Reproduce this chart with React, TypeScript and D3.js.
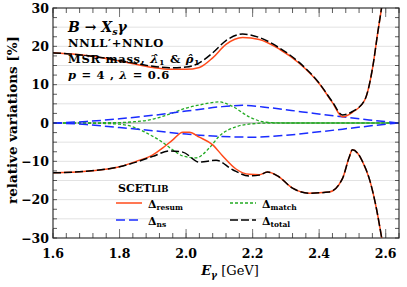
import React from "react";
import * as d3 from "d3";

type Pt = [number, number];

const totalUp: Pt[] = [
  [1.6, 18.3], [1.7, 17.6], [1.8, 16.3], [1.9, 14.8], [1.95, 14.4], [2.0, 14.6],
  [2.04, 15.7], [2.08, 18.3], [2.12, 21.5], [2.17, 23.2], [2.22, 22.3], [2.28, 19.6],
  [2.34, 15.8], [2.4, 10.4], [2.44, 5.5], [2.47, 2.1], [2.5, 3.0], [2.537, 6.0],
  [2.561, 14.6], [2.576, 23.5], [2.588, 30.3], [2.6, 38],
];
const resumUp: Pt[] = [
  [1.6, 18.3], [1.7, 17.6], [1.8, 16.2], [1.9, 14.5], [1.95, 14.0], [2.0, 14.0],
  [2.04, 14.5], [2.08, 17.0], [2.12, 20.5], [2.17, 22.3], [2.22, 21.8], [2.28, 19.3],
  [2.34, 15.6], [2.4, 10.3], [2.44, 5.3], [2.47, 1.6], [2.5, 2.8], [2.537, 6.0],
  [2.561, 14.6], [2.576, 23.5], [2.588, 30.3], [2.6, 38],
];
const totalDown: Pt[] = [
  [1.6, -13.0], [1.7, -12.6], [1.8, -11.4], [1.85, -10.2], [1.9, -8.7], [1.95, -7.3],
  [1.99, -7.6], [2.04, -10.2], [2.09, -9.7], [2.14, -12.2], [2.19, -13.8], [2.22, -13.6],
  [2.245, -12.8], [2.275, -13.8], [2.32, -17.0], [2.37, -18.3], [2.43, -18.0], [2.47, -14.5],
  [2.49, -9.0], [2.5, -7.0], [2.515, -7.8], [2.53, -10.0], [2.552, -14.9], [2.573, -22.7],
  [2.588, -30], [2.6, -36],
];
const resumDown: Pt[] = [
  [1.6, -13.0], [1.7, -12.6], [1.8, -11.4], [1.85, -10.0], [1.9, -8.3], [1.93, -6.5],
  [1.96, -4.4], [1.99, -2.4], [2.01, -2.4], [2.04, -3.7], [2.08, -5.7], [2.11, -8.6],
  [2.15, -12.0], [2.19, -13.4], [2.22, -13.5], [2.245, -12.8], [2.275, -13.8], [2.32, -17.0],
  [2.37, -18.3], [2.43, -18.0], [2.47, -14.5], [2.49, -9.0], [2.5, -7.0], [2.515, -7.8],
  [2.53, -10.0], [2.552, -14.9], [2.573, -22.7], [2.588, -30], [2.6, -36],
];
const matchUp: Pt[] = [
  [1.6, 0], [1.8, 0.1], [1.84, 0.3], [1.89, 0.8], [1.95, 2.3], [2.0, 3.9], [2.04, 4.7],
  [2.1, 5.5], [2.14, 4.3], [2.19, 1.6], [2.24, 0.2], [2.3, 0], [2.64, 0],
];
const matchDown: Pt[] = [
  [1.6, 0], [1.74, -0.1], [1.8, -0.3], [1.84, -1.0], [1.89, -3.0], [1.92, -4.5],
  [1.96, -7.0], [1.99, -8.6], [2.03, -9.1], [2.07, -6.5], [2.1, -3.4], [2.15, -1.0],
  [2.2, -0.2], [2.25, 0], [2.64, 0],
];
const nsUp: Pt[] = [
  [1.6, 0], [1.7, 0.4], [1.8, 1.1], [1.9, 2.0], [2.0, 3.1], [2.1, 4.2], [2.17, 4.6],
  [2.25, 4.0], [2.35, 2.9], [2.45, 1.8], [2.55, 0.8], [2.64, 0],
];
const nsDown: Pt[] = [
  [1.6, 0], [1.7, -0.4], [1.8, -1.2], [1.9, -2.0], [2.0, -2.9], [2.1, -3.5], [2.2, -3.7],
  [2.3, -3.2], [2.4, -2.3], [2.5, -1.3], [2.58, -0.5], [2.64, 0],
];

const xTickLabels = ["1.6", "1.8", "2.0", "2.2", "2.4", "2.6"];
const yTickLabels = [30, 20, 10, 0, -10, -20, -30];

const W = 407;
const H = 287;
const L = 53, R = 399, T = 8, B = 238;

const x = d3.scaleLinear().domain([1.6, 2.64]).range([L, R]);
const y = d3.scaleLinear().domain([-30, 30]).range([B, T]);

const line = d3
  .line<Pt>()
  .x((d) => x(d[0]))
  .y((d) => y(d[1]))
  .curve(d3.curveMonotoneX);

const serif = "'DejaVu Serif', serif";
const RED = "#ff4a1a";
const GREEN = "#22aa22";
const BLUE = "#1a2cff";

export default function App() {
  const yMinor = d3.range(-30, 30.01, 2.5);
  const yGrid = d3.range(-25, 25.01, 5).filter((v) => v !== 0);
  const xMinor = d3.range(1.6, 2.641, 0.04);
  const xMajor = xTickLabels.map(Number);

  return (
    <svg
      width={W}
      height={H}
      style={{ position: "absolute", left: 0, top: 0, background: "#fff" }}
      fontFamily={serif}
    >
      <defs>
        <clipPath id="plot">
          <rect x={L} y={T} width={R - L} height={B - T} />
        </clipPath>
      </defs>

      {/* grid */}
      {yGrid.map((v) => (
        <line key={"g" + v} x1={L} x2={R} y1={y(v)} y2={y(v)} stroke="#e2e2e2" strokeWidth={1} />
      ))}
      <line x1={L} x2={R} y1={y(0)} y2={y(0)} stroke="#8a8a8a" strokeWidth={1} />

      {/* curves */}
      <g clipPath="url(#plot)" fill="none">
        <path d={line(matchUp) || ""} stroke={GREEN} strokeWidth={1.3} strokeDasharray="3,2" />
        <path d={line(matchDown) || ""} stroke={GREEN} strokeWidth={1.3} strokeDasharray="3,2" />
        <path d={line(nsUp) || ""} stroke={BLUE} strokeWidth={1.5} strokeDasharray="9,4" />
        <path d={line(nsDown) || ""} stroke={BLUE} strokeWidth={1.5} strokeDasharray="9,4" />
        <path d={line(resumUp) || ""} stroke={RED} strokeWidth={1.5} />
        <path d={line(resumDown) || ""} stroke={RED} strokeWidth={1.5} />
        <path d={line(totalUp) || ""} stroke="#000" strokeWidth={1.5} strokeDasharray="8,3" />
        <path d={line(totalDown) || ""} stroke="#000" strokeWidth={1.5} strokeDasharray="8,3" />
      </g>

      {/* ticks */}
      {yMinor.map((v) => (
        <g key={"yt" + v} stroke="#333" strokeWidth={0.8}>
          <line x1={L} x2={L + 4} y1={y(v)} y2={y(v)} />
          <line x1={R - 4} x2={R} y1={y(v)} y2={y(v)} />
        </g>
      ))}
      {xMinor.map((v) => (
        <g key={"xt" + v} stroke="#333" strokeWidth={0.8}>
          <line x1={x(v)} x2={x(v)} y1={B} y2={B - 5} />
          <line x1={x(v)} x2={x(v)} y1={T} y2={T + 5} />
        </g>
      ))}
      {xMajor.map((v) => (
        <g key={"xm" + v} stroke="#777" strokeWidth={1}>
          <line x1={x(v)} x2={x(v)} y1={B} y2={B - 9} />
          <line x1={x(v)} x2={x(v)} y1={T} y2={T + 9} />
        </g>
      ))}
      <rect x={L} y={T} width={R - L} height={B - T} fill="none" stroke="#222" strokeWidth={1.1} />

      {/* tick labels */}
      {yTickLabels.map((v) => (
        <text
          key={"yl" + v}
          x={49}
          y={y(v) + 4.5}
          textAnchor="end"
          fontSize={12.5}
          fontWeight="bold"
        >
          {v < 0 ? "\u2212" + Math.abs(v) : String(v)}
        </text>
      ))}
      {xTickLabels.map((s) => (
        <text
          key={"xl" + s}
          x={x(Number(s))}
          y={258}
          textAnchor="middle"
          fontSize={12.5}
          fontWeight="bold"
        >
          {s}
        </text>
      ))}

      {/* axis titles */}
      <text x={230} y={275} textAnchor="middle" fontSize={13}>
        <tspan fontWeight="bold" fontStyle="italic">E</tspan>
        <tspan fontWeight="bold" fontStyle="italic" fontSize={9} dy={3}>γ</tspan>
        <tspan dy={-3}> [GeV]</tspan>
      </text>
      <text
        transform={`translate(17,${(T + B) / 2 - 3}) rotate(-90)`}
        textAnchor="middle"
        fontSize={13.5}
        fontWeight="bold"
      >
        relative variations [%]
      </text>

      {/* annotations */}
      <text x={68} y={32} fontSize={14} fontWeight="bold" fontStyle="italic">
        <tspan>B</tspan>
        <tspan fontStyle="normal"> → </tspan>
        <tspan>X</tspan>
        <tspan fontSize={9.5} dy={3}>s</tspan>
        <tspan dy={-3}>γ</tspan>
      </text>
      <g fontSize={11.5} fontWeight="bold" letterSpacing={0.7}>
        <text x={68} y={47}>
          NNLL′+NNLO
        </text>
        <text x={68} y={63}>
          <tspan>MSR mass, </tspan>
          <tspan fontStyle="italic">λ̂</tspan>
          <tspan fontSize={8} dy={2}>1</tspan>
          <tspan dy={-2}> &amp; </tspan>
          <tspan fontStyle="italic">ρ̂</tspan>
          <tspan fontSize={8} dy={2}>1</tspan>
        </text>
        <text x={68} y={79}>
          <tspan fontStyle="italic">p</tspan>
          <tspan> = 4 , </tspan>
          <tspan fontStyle="italic">λ</tspan>
          <tspan> = 0.6</tspan>
        </text>
      </g>

      {/* legend */}
      <text x={118} y={192} fontSize={11} fontWeight="bold">
        SCET<tspan fontSize={8.5}>LIB</tspan>
      </text>
      <line x1={116} x2={142} y1={203} y2={203} stroke={RED} strokeWidth={1.5} />
      <text x={148} y={208} fontSize={11} fontWeight="bold">
        Δ<tspan fontSize={7.5} dy={2}>resum</tspan>
      </text>
      <line x1={116} x2={142} y1={220} y2={220} stroke={BLUE} strokeWidth={1.5} strokeDasharray="9,4" />
      <text x={148} y={225} fontSize={11} fontWeight="bold">
        Δ<tspan fontSize={7.5} dy={2}>ns</tspan>
      </text>
      <line x1={230} x2={256} y1={203} y2={203} stroke={GREEN} strokeWidth={1.3} strokeDasharray="3,2" />
      <text x={262} y={208} fontSize={11} fontWeight="bold">
        Δ<tspan fontSize={7.5} dy={2}>match</tspan>
      </text>
      <line x1={230} x2={256} y1={220} y2={220} stroke="#000" strokeWidth={1.5} strokeDasharray="8,3" />
      <text x={262} y={225} fontSize={11} fontWeight="bold">
        Δ<tspan fontSize={7.5} dy={2}>total</tspan>
      </text>
    </svg>
  );
}
